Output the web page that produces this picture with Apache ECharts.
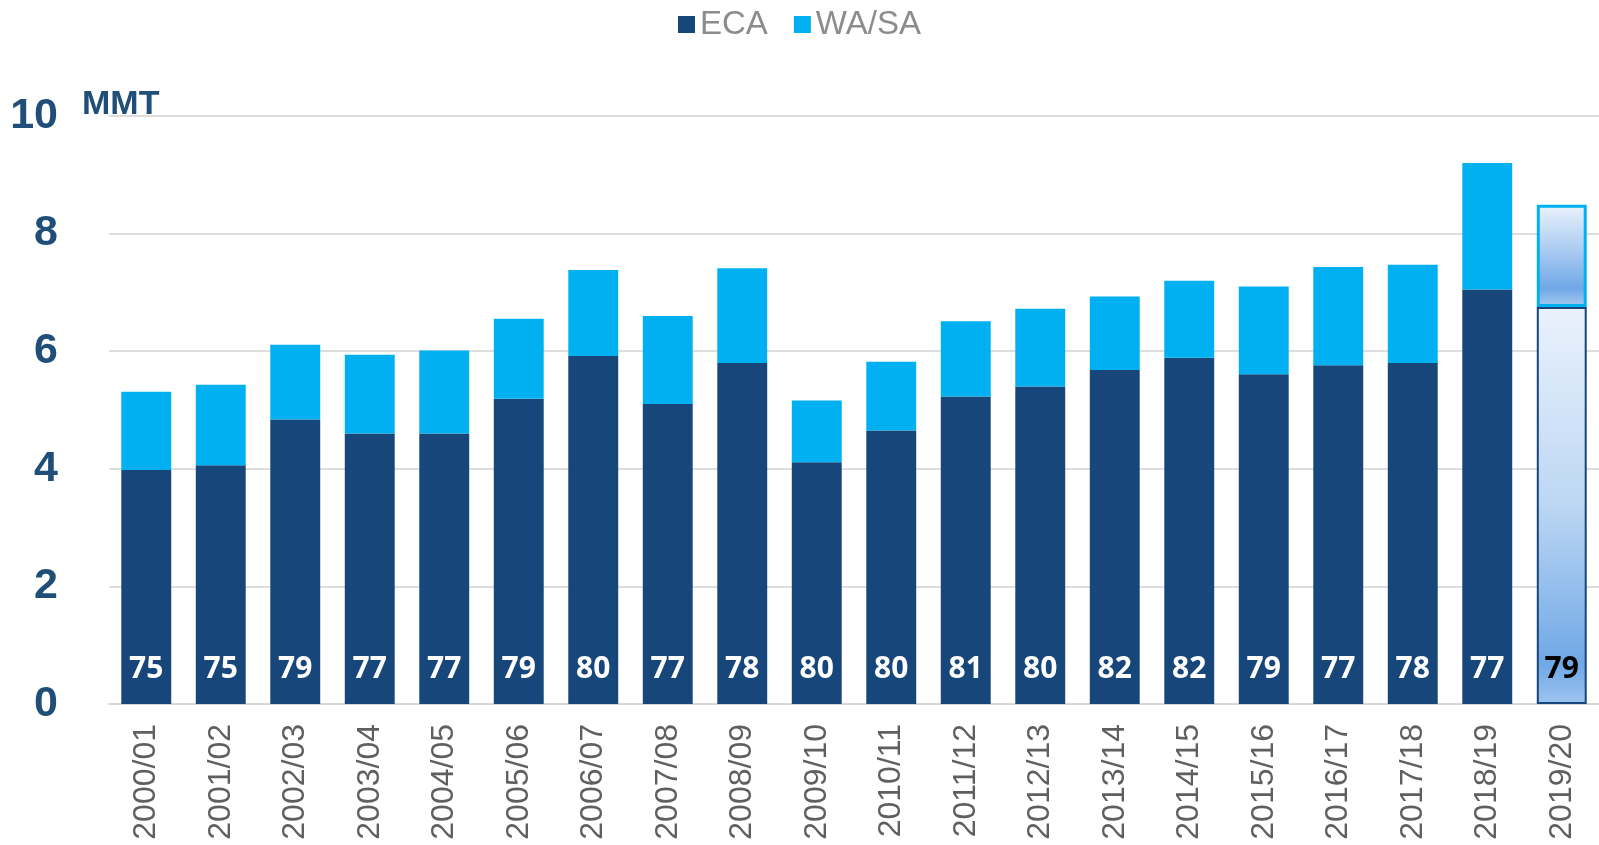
<!DOCTYPE html>
<html>
<head>
<meta charset="utf-8">
<title>ECA / WA/SA</title>
<script src="https://cdn.jsdelivr.net/npm/echarts@6/dist/echarts.min.js"></script>
<style>
  html, body { margin: 0; padding: 0; background: #fff; }
  #chart { width: 1599px; height: 845px; }
</style>
</head>
<body>
<div id="chart"></div>
<script>
// 数据
var years = ['2000/01', '2001/02', '2002/03', '2003/04', '2004/05', '2005/06', '2006/07',
    '2007/08', '2008/09', '2009/10', '2010/11', '2011/12', '2012/13', '2013/14', '2014/15',
    '2015/16', '2016/17', '2017/18', '2018/19', '2019/20'];
var eca = [3.98, 4.06, 4.84, 4.60, 4.60, 5.19, 5.92, 5.10, 5.80, 4.11,
    4.65, 5.23, 5.40, 5.68, 5.89, 5.61, 5.76, 5.80, 7.05, 6.75];
var wasa = [1.33, 1.37, 1.27, 1.34, 1.41, 1.36, 1.46, 1.50, 1.61, 1.05,
    1.17, 1.28, 1.32, 1.25, 1.31, 1.49, 1.67, 1.67, 2.15, 1.74];
var share = [75, 75, 79, 77, 77, 79, 80, 77, 78, 80, 80, 81, 80, 82, 82, 79, 77, 78, 77, 79];
var yTicks = [0, 2, 4, 6, 8, 10];

var navy = '#17467a';
var cyan = '#00b0f0';
var last = years.length - 1;

// 最后一根柱子（预测）用渐变
var ecaData = eca.map(function (v, i) {
    if (i !== last) return v;
    return {
        value: v,
        itemStyle: {
            color: new echarts.graphic.LinearGradient(0, 0, 0, 1, [
                { offset: 0, color: '#eaf2fc' },
                { offset: 0.5, color: '#bcd6f3' },
                { offset: 0.9, color: '#6fa8e6' },
                { offset: 1, color: '#9ec4ef' }
            ]),
            borderColor: navy,
            borderWidth: 2
        },
        label: { color: '#000' }
    };
});
var wasaData = wasa.map(function (v, i) {
    if (i !== last) return v;
    return {
        value: v,
        itemStyle: {
            color: new echarts.graphic.LinearGradient(0, 0, 0, 1, [
                { offset: 0, color: '#eaf2fc' },
                { offset: 0.45, color: '#a9cbf1' },
                { offset: 0.82, color: '#6fa8e6' },
                { offset: 1, color: '#a9cbf1' }
            ]),
            borderColor: cyan,
            borderWidth: 3
        }
    };
});

var dom = document.getElementById('chart');
var myChart = echarts.init(dom, null, { renderer: 'canvas' });
var option = {
    animation: false,
    textStyle: { fontFamily: 'Liberation Sans' },
    legend: {
        top: 3,
        left: 'center',
        itemWidth: 17,
        itemHeight: 17,
        itemGap: 26,
        icon: 'rect',
        textStyle: { fontSize: 33, color: '#8c8c8c', fontFamily: 'Liberation Sans' },
        data: ['ECA', 'WA/SA']
    },
    grid: { left: 109, right: 0, top: 116, bottom: 141 },
    graphic: [{
        type: 'text',
        left: 82,
        top: 88,
        style: { text: 'MMT', font: 'bold 34px "Liberation Sans"', fill: '#1f4e79' }
    }],
    xAxis: {
        type: 'category',
        data: years,
        axisTick: { show: false },
        axisLine: { lineStyle: { color: '#d9d9d9', width: 2 } },
        axisLabel: {
            rotate: 90,
            interval: 0,
            margin: 20,
            fontSize: 32,
            color: '#5f5f5f',
            fontFamily: 'Liberation Sans'
        }
    },
    yAxis: {
        type: 'value',
        min: yTicks[0],
        max: yTicks[yTicks.length - 1],
        interval: yTicks[1] - yTicks[0],
        axisLine: { show: false },
        axisTick: { show: false },
        splitLine: { lineStyle: { color: '#dedede', width: 2 } },
        axisLabel: {
            margin: 51,
            fontSize: 43,
            fontWeight: 'bold',
            color: '#1f4e79',
            fontFamily: 'Liberation Sans'
        }
    },
    series: [{
        name: 'ECA',
        type: 'bar',
        stack: 'total',
        barCategoryGap: '33%',
        itemStyle: { color: navy },
        label: {
            show: true,
            position: 'insideBottom',
            distance: 20,
            fontSize: 30,
            fontWeight: 'bold',
            fontFamily: 'Open Sans',
            color: '#fff',
            formatter: function (p) { return share[p.dataIndex]; }
        },
        data: ecaData
    }, {
        name: 'WA/SA',
        type: 'bar',
        stack: 'total',
        itemStyle: { color: cyan },
        data: wasaData
    }]
};

if (option && typeof option === "object") {
    myChart.setOption(option, true);
}
</script>
</body>
</html>
